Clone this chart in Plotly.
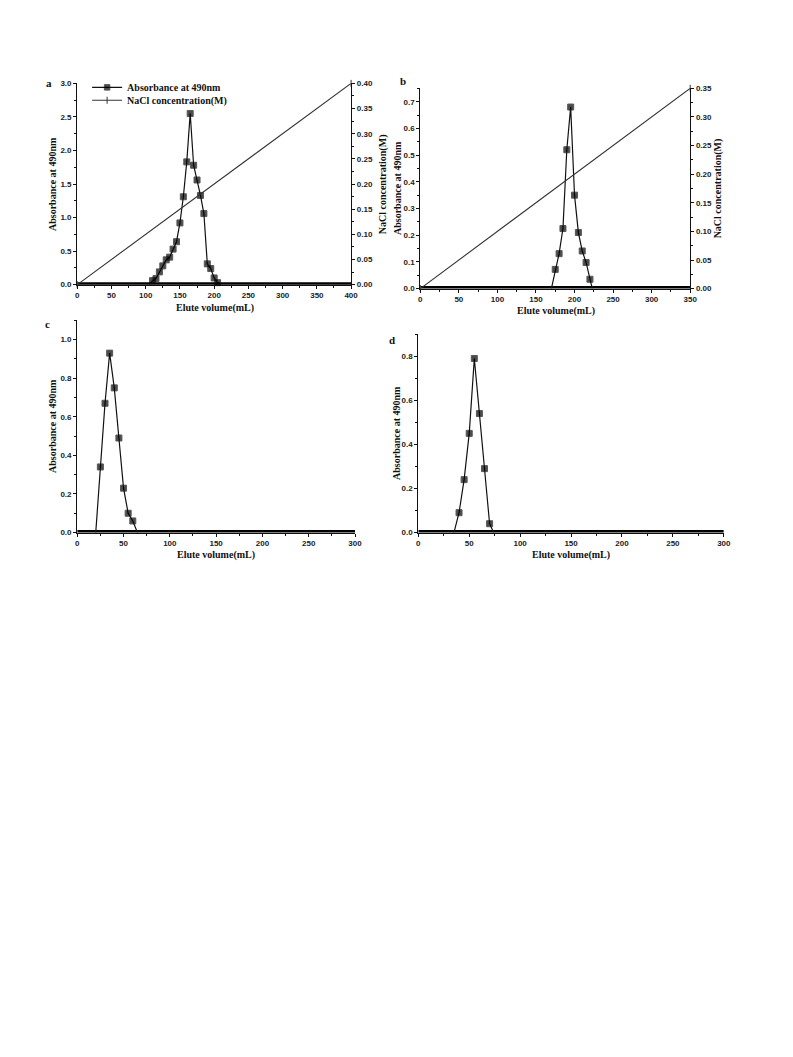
import plotly.graph_objects as go

W, H = 793, 1057

# ---------------- data ----------------
# Panel a
a_vol = [105, 110, 115, 120, 125, 130, 135, 140, 145, 150, 155, 160, 165, 170,
         175, 180, 185, 190, 195, 200, 205, 210]
a_abs = [0, 0.06, 0.09, 0.19, 0.28, 0.37, 0.41, 0.53, 0.64, 0.92, 1.31, 1.83,
         2.55, 1.78, 1.56, 1.33, 1.06, 0.31, 0.24, 0.10, 0.03, 0]
a_nacl_vol = [0, 400]
a_nacl = [0, 0.40]

# Panel b
b_vol = [170, 175, 180, 185, 190, 195, 200, 205, 210, 215, 220, 223]
b_abs = [0, 0.072, 0.131, 0.225, 0.52, 0.68, 0.35, 0.21, 0.141, 0.098, 0.035, 0]
b_nacl_vol = [0, 350]
b_nacl = [0, 0.35]

# Panel c
c_vol = [20, 25, 30, 35, 40, 45, 50, 55, 60, 65]
c_abs = [0, 0.34, 0.67, 0.93, 0.75, 0.49, 0.23, 0.10, 0.06, 0]

# Panel d
d_vol = [35, 40, 45, 50, 55, 60, 65, 70, 74]
d_abs = [0, 0.09, 0.24, 0.45, 0.79, 0.54, 0.29, 0.04, 0]

# axis ranges
a_xmax, a_ymax, a_y2max = 400, 3.0, 0.40
b_xmax, b_ymax, b_y2max = 350, 0.75, 0.35
c_xmax, c_ymax = 300, 1.1
d_xmax, d_ymax = 300, 0.9

# ---------------- layout helpers ----------------
OFF = 8  # default page body margin


def fx(px):
    return (px - OFF) / W


def fy(py):
    return 1 - (py - OFF) / H


TICKFONT = dict(family="Liberation Sans, Arial, sans-serif", size=8, color="#222", weight="bold")
TITLEFONT = dict(family="Liberation Serif, Times New Roman, serif", size=10, color="#111", weight="bold")
LABELFONT = dict(family="Liberation Serif, Times New Roman, serif", size=11, color="#111", weight="bold")


def axis_style(rng, dtick, minor_dtick, fmt, domain, anchor, side=None, overlaying=None):
    d = dict(
        range=rng, dtick=dtick, tick0=0, tickformat=fmt,
        domain=domain, anchor=anchor,
        showline=True, linecolor="#111", linewidth=1.2,
        ticks="outside", ticklen=3, tickwidth=1, tickcolor="#111",
        minor=dict(ticks="outside", ticklen=2, dtick=minor_dtick, tick0=0, tickcolor="#111"),
        showgrid=False, zeroline=False, tickfont=TICKFONT,
        fixedrange=True,
    )
    if side:
        d["side"] = side
    if overlaying:
        d["overlaying"] = overlaying
    return d


fig = go.Figure()

LINE = dict(color="#111", width=1.2)


def add_abs(xs, ys, xa, ya, xmax, showlegend=False):
    sizes = [6 if v > 0 else 0 for v in ys]
    fig.add_trace(go.Scatter(
        x=[0, xmax], y=[0, 0], mode="lines", line=dict(color="#000", width=5),
        xaxis=xa, yaxis=ya, showlegend=False, hoverinfo="skip"))
    fig.add_trace(go.Scatter(
        x=xs, y=ys, mode="lines+markers", line=LINE,
        marker=dict(symbol="square", color="#000", size=sizes),
        xaxis=xa, yaxis=ya, name="Absorbance at 490nm", showlegend=showlegend,
        legend="legend", cliponaxis=False))


def add_nacl(xs, ys, xa, ya, showlegend=False):
    fig.add_trace(go.Scatter(
        x=xs, y=ys, mode="lines+markers",
        line=dict(color="#333", width=1.1),
        marker=dict(symbol="line-ns", size=5, line=dict(color="#333", width=1)),
        xaxis=xa, yaxis=ya, name="NaCl concentration(M)", showlegend=showlegend,
        legend="legend2", cliponaxis=False))


# Panel a
add_nacl(a_nacl_vol, a_nacl, "x", "y2", showlegend=True)
add_abs(a_vol, a_abs, "x", "y", a_xmax, showlegend=True)
# Panel b
add_nacl(b_nacl_vol, b_nacl, "x2", "y4")
add_abs(b_vol, b_abs, "x2", "y3", b_xmax)
# Panel c
add_abs(c_vol, c_abs, "x3", "y5", c_xmax)
# Panel d
add_abs(d_vol, d_abs, "x4", "y6", d_xmax)

# domains (pixel -> paper)
a_dx, a_dy = [fx(76), fx(353)], [fy(283), fy(80)]
b_dx, b_dy = [fx(423), fx(696)], [fy(287), fy(85)]
c_dx, c_dy = [fx(76), fx(357)], [fy(533), fy(319)]
d_dx, d_dy = [fx(421), fx(730)], [fy(533), fy(333)]

LEG = dict(xanchor="left", yanchor="middle", bgcolor="rgba(0,0,0,0)",
           font=TITLEFONT, itemwidth=30, borderwidth=0)

fig.update_layout(
    width=W, height=H,
    margin=dict(l=0, r=0, t=0, b=0),
    paper_bgcolor="white", plot_bgcolor="white",
    font=dict(family="Liberation Serif, serif", color="#111"),
    xaxis=axis_style([0, a_xmax], 50, 25, "d", a_dx, "y"),
    yaxis=axis_style([0, a_ymax], 0.5, 0.25, ".1f", a_dy, "x"),
    yaxis2=axis_style([0, a_y2max], 0.05, 0.025, ".2f", a_dy, "x", side="right", overlaying="y"),
    xaxis2=axis_style([0, b_xmax], 50, 25, "d", b_dx, "y3"),
    yaxis3=axis_style([0, b_ymax], 0.1, 0.05, ".1f", b_dy, "x2"),
    yaxis4=axis_style([0, b_y2max], 0.05, 0.025, ".2f", b_dy, "x2", side="right", overlaying="y3"),
    xaxis3=axis_style([0, c_xmax], 50, 25, "d", c_dx, "y5"),
    yaxis5=axis_style([0, c_ymax], 0.2, 0.1, ".1f", c_dy, "x3"),
    xaxis4=axis_style([0, d_xmax], 50, 25, "d", d_dx, "y6"),
    yaxis6=axis_style([0, d_ymax], 0.2, 0.1, ".1f", d_dy, "x4"),
    legend=dict(x=fx(86), y=fy(84), **LEG),
    legend2=dict(x=fx(86), y=fy(97), **LEG),
    showlegend=True,
)


def ann(text, px, py, angle=0, font=TITLEFONT, xanchor="center"):
    fig.add_annotation(
        text=text, x=fx(px), y=fy(py), xref="paper", yref="paper",
        showarrow=False, textangle=angle, font=font,
        xanchor=xanchor, yanchor="middle")


# axis titles
ann("Elute volume(mL)", 215, 307)
ann("Absorbance at 490nm", 51, 182, angle=-90)
ann("NaCl concentration(M)", 385, 182, angle=-90)

ann("Elute volume(mL)", 560, 310)
ann("Absorbance at 490nm", 400, 186, angle=-90)
ann("NaCl concentration(M)", 725, 186, angle=-90)

ann("Elute volume(mL)", 216, 556)
ann("Absorbance at 490nm", 51, 426, angle=-90)

ann("Elute volume(mL)", 575, 556)
ann("Absorbance at 490nm", 399, 433, angle=-90)

# panel labels
ann("a", 47, 80, font=LABELFONT)
ann("b", 406, 78, font=LABELFONT)
ann("c", 46, 323, font=LABELFONT)
ann("d", 394, 339, font=LABELFONT)

fig.write_html("out.html")
